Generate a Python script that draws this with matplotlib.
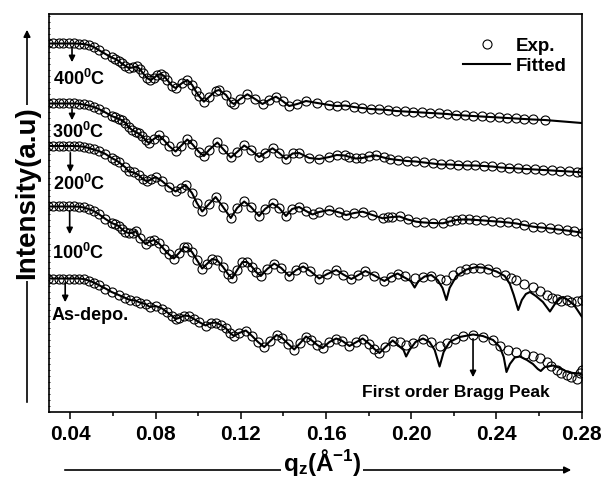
import matplotlib
matplotlib.use("Agg")
import matplotlib.pyplot as plt
from matplotlib.ticker import MultipleLocator

plt.rcParams['font.family'] = ['Liberation Sans', 'DejaVu Sans']
plt.rcParams['font.weight'] = 'bold'
plt.rcParams['mathtext.fontset'] = 'custom'
plt.rcParams['mathtext.rm'] = 'Liberation Sans:bold'
plt.rcParams['mathtext.bf'] = 'Liberation Sans:bold'
plt.rcParams['mathtext.it'] = 'Liberation Sans:bold'

# ---- data (q in 1/A, intensity in offset log a.u.) ----
# 400 C
q400 = [0.0293, 0.0321, 0.0345, 0.0368, 0.0392, 0.0416, 0.0439, 0.0463, 0.0486, 0.0510,
        0.0533, 0.0565, 0.0594, 0.0612, 0.0627, 0.0641, 0.0659, 0.0674, 0.0693, 0.0712,
        0.0726, 0.0740, 0.0760, 0.0776, 0.0792, 0.0808, 0.0824, 0.0840, 0.0855, 0.0878,
        0.0894, 0.0925, 0.0949, 0.0972, 0.0988, 0.1004, 0.1027, 0.1051, 0.1082, 0.1098,
        0.1131, 0.1153, 0.1168, 0.1197, 0.1231, 0.1267, 0.1302, 0.1333, 0.1365, 0.1396,
        0.1427, 0.1465, 0.1506, 0.1559, 0.1616, 0.1650, 0.1690, 0.1730, 0.1770, 0.1810,
        0.1850, 0.1890, 0.1930, 0.1970, 0.2010, 0.2050, 0.2090, 0.2130, 0.2170, 0.2210,
        0.2250, 0.2290, 0.2330, 0.2370, 0.2410, 0.2450, 0.2490, 0.2530, 0.2570, 0.2627]
i400 = [368.5, 368.5, 368.5, 368.5, 368.5, 368.5, 368.3, 368.0, 367.0, 365.0,
        362.0, 358.0, 354.5, 353.0, 351.0, 348.5, 346.0, 344.0, 344.5, 345.5,
        343.0, 339.0, 334.0, 332.0, 334.0, 337.0, 338.0, 336.0, 332.0, 326.0,
        324.0, 329.0, 332.0, 327.0, 321.0, 316.0, 310.3, 315.0, 321.0, 322.0,
        317.0, 310.0, 308.0, 313.0, 317.7, 313.0, 308.0, 312.0, 315.3, 311.0,
        306.0, 308.0, 311.0, 309.0, 307.0, 306.0, 306.5, 305.0, 304.0, 303.0,
        302.5, 302.0, 301.0, 300.5, 300.0, 299.5, 299.0, 298.5, 298.0, 297.0,
        296.5, 296.0, 295.5, 295.0, 294.5, 294.0, 293.5, 293.0, 292.5, 292.0]
q400_fit_end = [0.2800]
i400_fit_end = [289.0]

# 300 C
q300 = [0.0293, 0.0321, 0.0345, 0.0368, 0.0392, 0.0416, 0.0439, 0.0463, 0.0486, 0.0510,
        0.0533, 0.0565, 0.0594, 0.0612, 0.0627, 0.0641, 0.0659, 0.0674, 0.0690, 0.0706,
        0.0721, 0.0736, 0.0753, 0.0768, 0.0792, 0.0816, 0.0839, 0.0863, 0.0894, 0.0919,
        0.0949, 0.0972, 0.1004, 0.1027, 0.1051, 0.1090, 0.1117, 0.1153, 0.1183, 0.1216,
        0.1248, 0.1286, 0.1314, 0.1349, 0.1380, 0.1412, 0.1443, 0.1474, 0.1521, 0.1568,
        0.1616, 0.1650, 0.1690, 0.1710, 0.1740, 0.1770, 0.1800, 0.1835, 0.1870, 0.1900,
        0.1940, 0.1980, 0.2020, 0.2060, 0.2100, 0.2140, 0.2180, 0.2220, 0.2260, 0.2300,
        0.2340, 0.2380, 0.2420, 0.2460, 0.2500, 0.2540, 0.2580, 0.2620, 0.2660, 0.2700,
        0.2740, 0.2780, 0.2800]
i300 = [308.5, 308.5, 308.5, 308.5, 308.5, 308.5, 308.3, 307.5, 306.5, 305.0,
        303.0, 299.5, 296.0, 294.5, 293.0, 292.0, 289.0, 285.0, 282.0, 280.0,
        278.5, 276.0, 272.0, 269.0, 273.0, 276.5, 272.0, 266.0, 260.5, 266.0,
        272.5, 268.0, 260.0, 256.0, 262.0, 269.5, 263.0, 254.5, 260.0, 266.5,
        262.0, 255.0, 259.0, 263.7, 259.0, 253.0, 258.5, 259.0, 254.0, 253.0,
        255.0, 257.0, 256.5, 255.0, 253.5, 254.0, 255.5, 256.5, 254.5, 253.0,
        252.0, 251.0, 250.5, 249.5, 248.5, 247.5, 247.5, 247.0, 246.5, 246.5,
        246.0, 245.5, 244.5, 244.0, 243.5, 243.0, 242.5, 242.0, 241.5, 241.0,
        240.5, 240.0, 239.5]

# 200 C
q200 = [0.0293, 0.0321, 0.0345, 0.0368, 0.0392, 0.0416, 0.0439, 0.0463, 0.0486, 0.0510,
        0.0533, 0.0565, 0.0594, 0.0612, 0.0627, 0.0659, 0.0674, 0.0698, 0.0721, 0.0740,
        0.0760, 0.0778, 0.0800, 0.0830, 0.0863, 0.0894, 0.0919, 0.0941, 0.0971, 0.0994,
        0.1019, 0.1051, 0.1082, 0.1117, 0.1153, 0.1183, 0.1216, 0.1248, 0.1286, 0.1314,
        0.1349, 0.1380, 0.1412, 0.1441, 0.1474, 0.1506, 0.1537, 0.1568, 0.1616, 0.1663,
        0.1694, 0.1733, 0.1772, 0.1818, 0.1866, 0.1890, 0.1912, 0.1945, 0.1983, 0.2024,
        0.2060, 0.2100, 0.2149, 0.2180, 0.2212, 0.2240, 0.2270, 0.2306, 0.2340, 0.2380,
        0.2416, 0.2455, 0.2494, 0.2530, 0.2572, 0.2610, 0.2651, 0.2690, 0.2729, 0.2765,
        0.2800]
i200 = [266.0, 266.0, 266.0, 266.0, 266.0, 266.0, 265.8, 265.3, 264.0, 262.5,
        261.0, 258.0, 254.0, 252.0, 250.0, 244.5, 240.5, 239.5, 237.0, 233.0,
        230.5, 232.5, 235.0, 231.0, 225.0, 220.5, 224.0, 227.0, 219.0, 209.0,
        200.5, 208.0, 215.0, 205.0, 194.0, 204.0, 210.5, 205.0, 196.0, 203.0,
        208.5, 204.0, 196.0, 203.0, 205.0, 201.0, 197.5, 200.0, 202.0, 199.5,
        197.0, 199.0, 200.3, 197.0, 193.7, 194.5, 195.0, 195.5, 192.5, 190.3,
        189.5, 189.0, 188.7, 190.5, 192.0, 192.5, 192.5, 192.0, 191.5, 190.8,
        190.3, 189.5, 188.5, 187.0, 185.3, 184.5, 183.5, 182.5, 181.5, 180.5,
        179.3]

# 100 C: common part, then measured and fitted high-q parts
q100 = [0.0293, 0.0321, 0.0345, 0.0368, 0.0392, 0.0416, 0.0439, 0.0463, 0.0486, 0.0510,
        0.0533, 0.0565, 0.0594, 0.0612, 0.0627, 0.0641, 0.0659, 0.0674, 0.0693, 0.0706,
        0.0726, 0.0753, 0.0773, 0.0792, 0.0816, 0.0839, 0.0863, 0.0886, 0.0910, 0.0933,
        0.0949, 0.0971, 0.0994, 0.1019, 0.1041, 0.1066, 0.1088, 0.1117, 0.1140, 0.1160,
        0.1183, 0.1208, 0.1230, 0.1253, 0.1272, 0.1294, 0.1324, 0.1357, 0.1390, 0.1427,
        0.1460, 0.1493, 0.1526, 0.1568, 0.1606, 0.1648, 0.1681, 0.1719, 0.1752, 0.1785,
        0.1827, 0.1874, 0.1903, 0.1936, 0.1973]
i100 = [205.5, 205.5, 205.5, 205.5, 205.5, 205.5, 205.3, 204.5, 203.0, 201.0,
        198.0, 193.0, 189.0, 187.5, 186.0, 183.0, 180.0, 179.0, 179.0, 181.0,
        174.0, 168.0, 170.5, 172.0, 168.5, 163.0, 157.5, 153.5, 159.0, 165.0,
        164.5, 160.0, 152.0, 143.5, 148.0, 153.0, 152.0, 145.0, 138.0, 133.7,
        142.0, 150.0, 150.0, 145.0, 140.0, 136.0, 143.0, 148.5, 144.0, 136.0,
        142.0, 145.5, 141.0, 133.5, 138.0, 142.0, 137.5, 133.0, 137.0, 141.0,
        136.5, 131.0, 135.0, 138.5, 136.0]
q100_exp = [0.2016, 0.2053, 0.2094, 0.2133, 0.2165, 0.2194, 0.2227, 0.2259, 0.2288, 0.2321,
            0.2359, 0.2400, 0.2439, 0.2467, 0.2494, 0.2528, 0.2572, 0.2604, 0.2635, 0.2660,
            0.2682, 0.2703, 0.2729, 0.2750, 0.2776, 0.2800]
i100_exp = [134.0, 135.5, 136.0, 133.0, 132.0, 137.0, 141.0, 143.0, 144.5, 144.5,
            143.0, 140.0, 137.0, 134.5, 132.0, 128.5, 125.0, 121.0, 117.0, 114.0,
            113.0, 111.5, 112.0, 110.0, 111.0, 112.0]
q100_fit = [0.1997, 0.2016, 0.2034, 0.2063, 0.2094, 0.2124, 0.2147, 0.2165, 0.2180, 0.2212,
            0.2259, 0.2306, 0.2350, 0.2400, 0.2439, 0.2463, 0.2481, 0.2502, 0.2519, 0.2538,
            0.2557, 0.2585, 0.2618, 0.2651, 0.2674, 0.2698, 0.2713, 0.2736, 0.2764, 0.2783,
            0.2800]
i100_fit = [131.0, 124.5, 131.0, 135.5, 137.0, 132.0, 124.0, 112.0, 124.0, 136.0,
            142.5, 145.0, 144.0, 140.5, 136.0, 128.0, 117.0, 102.0, 112.0, 118.0,
            120.0, 116.0, 110.0, 100.5, 108.0, 113.5, 115.0, 112.0, 107.0, 101.0,
            95.5]

# as-deposited
qad = [0.0293, 0.0321, 0.0345, 0.0368, 0.0392, 0.0416, 0.0439, 0.0463, 0.0486, 0.0510,
       0.0533, 0.0565, 0.0594, 0.0627, 0.0659, 0.0679, 0.0706, 0.0726, 0.0753, 0.0773,
       0.0800, 0.0831, 0.0853, 0.0878, 0.0894, 0.0910, 0.0933, 0.0957, 0.0980, 0.1004,
       0.1035, 0.1060, 0.1082, 0.1107, 0.1129, 0.1150, 0.1168, 0.1192, 0.1224, 0.1253,
       0.1281, 0.1310, 0.1338, 0.1368, 0.1394, 0.1423, 0.1451, 0.1479, 0.1506, 0.1531,
       0.1559, 0.1584, 0.1616, 0.1648, 0.1677, 0.1710, 0.1743, 0.1772, 0.1804, 0.1827,
       0.1851, 0.1879, 0.1913, 0.1945]
iad = [133.5, 133.5, 133.5, 133.5, 133.5, 133.5, 133.5, 133.0, 131.5, 129.5,
       127.0, 123.5, 120.0, 117.0, 114.0, 112.0, 111.5, 109.5, 108.0, 105.0,
       106.0, 103.5, 100.0, 96.0, 93.0, 94.0, 96.5, 96.0, 93.0, 90.0,
       86.5, 89.0, 89.5, 87.0, 84.0, 79.0, 76.0, 79.0, 81.5, 76.0,
       70.0, 65.0, 71.0, 77.0, 74.0, 68.0, 62.5, 69.0, 75.5, 72.0,
       67.0, 64.0, 70.0, 73.5, 71.0, 66.0, 70.0, 73.5, 68.0, 63.0,
       59.0, 65.0, 71.5, 70.0]
qad_exp = [0.1976, 0.2006, 0.2055, 0.2091, 0.2133, 0.2166, 0.2204, 0.2241, 0.2290, 0.2336,
           0.2384, 0.2416, 0.2453, 0.2494, 0.2533, 0.2572, 0.2604, 0.2635, 0.2656, 0.2682,
           0.2703, 0.2729, 0.2750, 0.2776, 0.2792, 0.2800]
iad_exp = [67.0, 69.0, 73.0, 70.0, 66.0, 69.0, 73.0, 76.0, 77.5, 75.5,
           72.0, 66.0, 62.0, 60.0, 58.5, 56.0, 54.0, 50.0, 46.0, 42.0,
           39.0, 37.0, 35.0, 33.5, 39.0, 42.0]
qad_fit = [0.1964, 0.1976, 0.1992, 0.2020, 0.2055, 0.2086, 0.2110, 0.2133, 0.2152, 0.2180,
           0.2227, 0.2290, 0.2336, 0.2384, 0.2416, 0.2434, 0.2447, 0.2463, 0.2486, 0.2510,
           0.2543, 0.2571, 0.2594, 0.2608, 0.2627, 0.2666, 0.2698, 0.2729, 0.2759, 0.2800]
iad_fit = [62.0, 55.5, 62.0, 70.0, 73.5, 70.0, 62.0, 45.5, 60.0, 70.0,
           75.0, 77.5, 76.0, 72.0, 65.0, 55.0, 40.0, 48.0, 54.5, 55.5,
           52.0, 48.0, 43.0, 41.0, 45.0, 46.5, 44.0, 40.5, 39.0, 38.5]

labels = [r'$\mathbf{400^{0}C}$', r'$\mathbf{300^{0}C}$', r'$\mathbf{200^{0}C}$',
          r'$\mathbf{100^{0}C}$', 'As-depo.']
label_q = [0.0321, 0.0313, 0.0321, 0.0313, 0.0313]
label_i = [333, 280, 228, 159, 96]
arrow_q = [0.0408, 0.0408, 0.0400, 0.0397, 0.0376]
arrow_top = [367, 306, 262, 204, 132]
arrow_bot = [347, 289, 237, 175, 107]

bragg_q = 0.2290
bragg_top = 76
bragg_bot = 32

# ---- figure ----
fig = plt.figure(figsize=(6.03, 4.80), dpi=100)
ax = fig.add_axes([49 / 603, 68 / 480, 532.7 / 603, 398 / 480])

exp_sets = [(q400, i400), (q300, i300), (q200, i200),
            (q100 + q100_exp, i100 + i100_exp), (qad + qad_exp, iad + iad_exp)]
fit_sets = [(q400 + q400_fit_end, i400 + i400_fit_end), (q300, i300), (q200, i200),
            (q100[:-1] + q100_fit, i100[:-1] + i100_fit), (qad[:-1] + qad_fit, iad[:-1] + iad_fit)]

for k, (qq, ii) in enumerate(exp_sets):
    ax.plot(qq, ii, 'o', ms=6.5, mfc='none', mec='black', mew=0.8,
            label='Exp.' if k == 0 else None, zorder=2)
for k, (qq, ii) in enumerate(fit_sets):
    ax.plot(qq, ii, '-', color='black', lw=1.5,
            label='Fitted' if k == 0 else None, zorder=3)

for txt, xq, yi in zip(labels, label_q, label_i):
    ax.text(xq, yi, txt, fontsize=13, fontweight='bold', ha='left', va='center')
for xq, y0, y1 in zip(arrow_q, arrow_top, arrow_bot):
    ax.annotate('', xy=(xq, y1), xytext=(xq, y0),
                arrowprops=dict(arrowstyle='-|>', color='black', lw=1.2, mutation_scale=9))

ax.annotate('', xy=(bragg_q, bragg_bot), xytext=(bragg_q, bragg_top),
            arrowprops=dict(arrowstyle='-|>', color='black', lw=1.2, mutation_scale=9))
ax.text(0.2211, 20, 'First order Bragg Peak', fontsize=12.5, fontweight='bold',
        ha='center', va='center')

ax.set_xlim(0.03, 0.28)
ax.set_ylim(0, 398)
ax.set_xticks([0.04, 0.08, 0.12, 0.16, 0.20, 0.24, 0.28])
ax.set_xticklabels(['0.04', '0.08', '0.12', '0.16', '0.20', '0.24', '0.28'])
ax.xaxis.set_minor_locator(MultipleLocator(0.02))
ax.set_yticks([])
ax.yaxis.set_minor_locator(MultipleLocator(6))
ax.tick_params(axis='x', which='major', length=5, width=1.1, direction='out',
               labelsize=15, pad=4)
ax.tick_params(axis='x', which='minor', length=3, width=1.1, direction='out')
ax.tick_params(axis='y', which='minor', length=1.5, width=0.6, direction='inout')
for lab in ax.get_xticklabels():
    lab.set_fontweight('bold')
for s in ax.spines.values():
    s.set_linewidth(1.2)

leg = ax.legend(loc='upper right', bbox_to_anchor=(0.972, 0.94), frameon=False,
                prop={'size': 13.5, 'weight': 'bold'}, handlelength=2.5,
                handletextpad=0.3, labelspacing=0.15, borderpad=0, borderaxespad=0)

# axis titles with long arrows, drawn in figure pixels
fig.patches.append(matplotlib.patches.FancyArrowPatch(
    (62, 10), (574, 10), transform=None, arrowstyle='-|>', mutation_scale=10,
    lw=1.2, color='black', figure=fig))
fig.text(322 / 603, 17 / 480, r'$\mathbf{q_z(Å^{-1})}$', fontsize=17.5,
         ha='center', va='center',
         bbox=dict(facecolor='white', edgecolor='none', pad=1))
fig.patches.append(matplotlib.patches.FancyArrowPatch(
    (27, 75), (27, 453), transform=None, arrowstyle='-|>', mutation_scale=10,
    lw=1.2, color='black', figure=fig))
fig.text(27 / 603, 287 / 480, 'Intensity(a.u)', fontsize=20, fontweight='bold',
         rotation=90, ha='center', va='center',
         bbox=dict(facecolor='white', edgecolor='none', pad=1))

fig.savefig('out.png', dpi=100)
